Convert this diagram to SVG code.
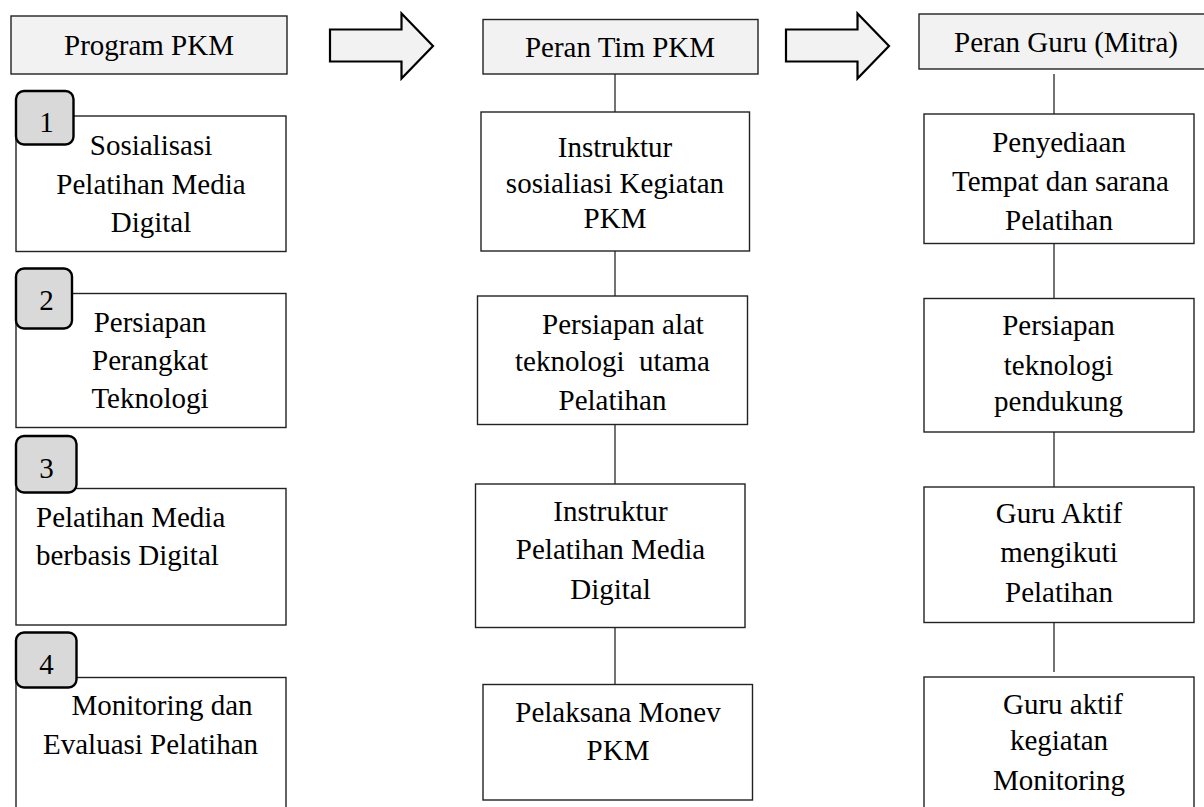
<svg xmlns="http://www.w3.org/2000/svg" width="1204" height="807" viewBox="0 0 1204 807">
<style>
text{font-family:"Liberation Serif","Times New Roman",serif;font-size:29px;fill:#000;text-anchor:middle}
.l{text-anchor:start}
.box{fill:#fff;stroke:#222;stroke-width:1.4}
.hdr{fill:#f2f2f2;stroke:#222;stroke-width:1.4}
.badge{fill:#d9d9d9;stroke:#000;stroke-width:2.4}
.arr{fill:#f2f2f2;stroke:#000;stroke-width:2.2;stroke-linejoin:miter}
.con{stroke:#444;stroke-width:1.5;fill:none}
</style>
<rect width="1204" height="807" fill="#fff"/>
<g id="arrows">
<polygon class="arr" points="330,29.5 401.5,29.5 401.5,13.5 433,46 401.5,78.5 401.5,61.5 330,61.5"/>
<polygon class="arr" points="786,29.5 857.5,29.5 857.5,13.5 889,46 857.5,78.5 857.5,61.5 786,61.5"/>
</g>
<g id="connectors">
<line class="con" x1="615" y1="74" x2="615" y2="112"/>
<line class="con" x1="615" y1="251" x2="615" y2="296"/>
<line class="con" x1="615" y1="424" x2="615" y2="484"/>
<line class="con" x1="615" y1="627" x2="615" y2="684"/>
<line class="con" x1="1054" y1="74" x2="1054" y2="114"/>
<line class="con" x1="1054" y1="243" x2="1054" y2="298"/>
<line class="con" x1="1054" y1="432" x2="1054" y2="487"/>
<line class="con" x1="1054" y1="622" x2="1054" y2="672"/>
</g>
<g id="h1"><rect class="hdr" x="11" y="16" width="276" height="58"/><text x="149" y="55">Program PKM</text></g>
<g id="h2"><rect class="hdr" x="483" y="19.5" width="275" height="54.5"/><text x="620" y="56.5">Peran Tim PKM</text></g>
<g id="h3"><rect class="hdr" x="919" y="14" width="296" height="55"/><text x="1066" y="51.5">Peran Guru (Mitra)</text></g>

<g id="p1"><rect class="box" x="16" y="116" width="270" height="135.5"/>
<text x="151" y="154.5">Sosialisasi</text><text x="151" y="194">Pelatihan Media</text><text x="151" y="232">Digital</text></g>
<g id="b1"><rect class="badge" x="16" y="91" width="57.5" height="53.5" rx="8"/><text x="46.5" y="132">1</text></g>

<g id="p2"><rect class="box" x="16" y="293.5" width="270" height="134"/>
<text x="150" y="331.5">Persiapan</text><text x="150" y="369.5">Perangkat</text><text x="150" y="408">Teknologi</text></g>
<g id="b2"><rect class="badge" x="16" y="268.5" width="56" height="60" rx="8"/><text x="46.5" y="310">2</text></g>

<g id="p3"><rect class="box" x="16" y="488.5" width="270" height="136.5"/>
<text class="l" x="36" y="527">Pelatihan Media</text><text class="l" x="36" y="565">berbasis Digital</text></g>
<g id="b3"><rect class="badge" x="16" y="436" width="60.5" height="56.5" rx="8"/><text x="46.5" y="477.5">3</text></g>

<g id="p4"><rect class="box" x="16" y="677.5" width="270" height="140"/>
<text x="162" y="715">Monitoring dan</text><text x="150.5" y="753.5">Evaluasi Pelatihan</text></g>
<g id="b4"><rect class="badge" x="16" y="632.5" width="60.5" height="55" rx="8"/><text x="46.5" y="674">4</text></g>

<g id="t1"><rect class="box" x="481" y="112" width="268.5" height="139"/>
<text x="615" y="157">Instruktur</text><text x="615" y="192.5">sosialiasi Kegiatan</text><text x="615" y="228">PKM</text></g>
<g id="t2"><rect class="box" x="477.5" y="296" width="270" height="128.5"/>
<text x="623" y="333.5">Persiapan alat</text><text x="612.5" y="371" xml:space="preserve">teknologi  utama</text><text x="612.5" y="409.5">Pelatihan</text></g>
<g id="t3"><rect class="box" x="475.5" y="484" width="269.5" height="143.5"/>
<text x="610.5" y="521">Instruktur</text><text x="610.5" y="558.5">Pelatihan Media</text><text x="610.5" y="598.5">Digital</text></g>
<g id="t4"><rect class="box" x="483" y="684.5" width="269.5" height="115.5"/>
<text x="618" y="722">Pelaksana Monev</text><text x="618" y="760">PKM</text></g>

<g id="g1"><rect class="box" x="924" y="114" width="270" height="129.5"/>
<text x="1059" y="152">Penyediaan</text><text x="1060.5" y="191">Tempat dan sarana</text><text x="1059" y="229.5">Pelatihan</text></g>
<g id="g2"><rect class="box" x="924" y="298.5" width="270" height="133.5"/>
<text x="1058.5" y="335">Persiapan</text><text x="1058.5" y="375">teknologi</text><text x="1058.5" y="411">pendukung</text></g>
<g id="g3"><rect class="box" x="924" y="487" width="270" height="135.5"/>
<text x="1059" y="523">Guru Aktif</text><text x="1059" y="562">mengikuti</text><text x="1059" y="602">Pelatihan</text></g>
<g id="g4"><rect class="box" x="924" y="677" width="270" height="140"/>
<text x="1063" y="713.5">Guru aktif</text><text x="1059" y="750">kegiatan</text><text x="1059" y="790">Monitoring</text></g>
</svg>
